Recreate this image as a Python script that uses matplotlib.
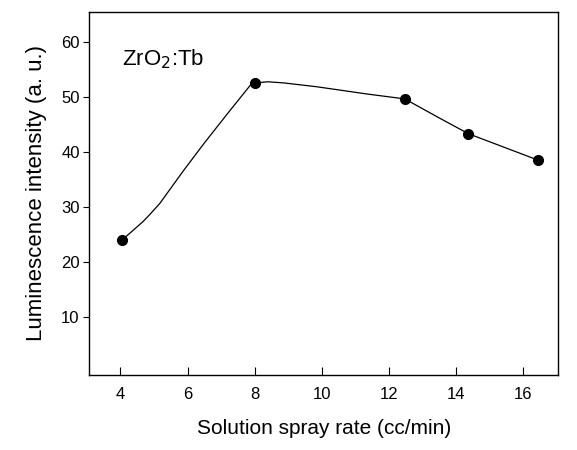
import matplotlib
matplotlib.use("Agg")
import matplotlib.pyplot as plt

plt.rcParams['font.family'] = ['Liberation Sans', 'DejaVu Sans']

# measured points
rate = [4.04, 8.0, 12.47, 14.36, 16.44]
intensity = [24.0, 52.5, 49.6, 43.3, 38.5]

# points
curve_x = [4.04, 4.29, 4.68, 4.9, 5.18, 5.88, 6.5, 7.2, 7.86, 8.0, 8.4, 8.86,
           9.85, 11.33, 12.47, 13.42, 14.36, 15.40, 16.44]
curve_y = [24.0, 25.3, 27.4, 28.8, 30.7, 36.6, 41.6, 47.0, 52.0, 52.5, 52.7, 52.5,
           51.8, 50.5, 49.6, 46.4, 43.3, 40.9, 38.5]

xticks = [4, 6, 8, 10, 12, 14, 16]
yticks = [10, 20, 30, 40, 50, 60]

fig = plt.figure(figsize=(5.77, 4.5), dpi=100)
ax = fig.add_axes([0.155, 0.167, 0.812, 0.807])

ax.plot(curve_x, curve_y, color='black', linewidth=0.9)
ax.plot(rate, intensity, 'o', color='black', markersize=7)

ax.set_xlim(3.08, 17.03)
ax.set_ylim(-0.4, 65.4)
ax.set_xticks(xticks)
ax.set_yticks(yticks)
ax.tick_params(axis='x', direction='in', length=6, width=0.8, labelsize=12, pad=9)
ax.tick_params(axis='y', direction='out', length=4, width=0.8, labelsize=12, pad=3)
for s in ax.spines.values():
    s.set_linewidth(1.0)

ax.set_xlabel('Solution spray rate (cc/min)', fontsize=15, labelpad=12)
ax.set_ylabel('Luminescence intensity (a. u.)', fontsize=16, labelpad=10)

ax.text(0.07, 0.87, 'ZrO$_2$:Tb', transform=ax.transAxes, fontsize=16,
        ha='left', va='center')

fig.savefig('out.png', dpi=100)
